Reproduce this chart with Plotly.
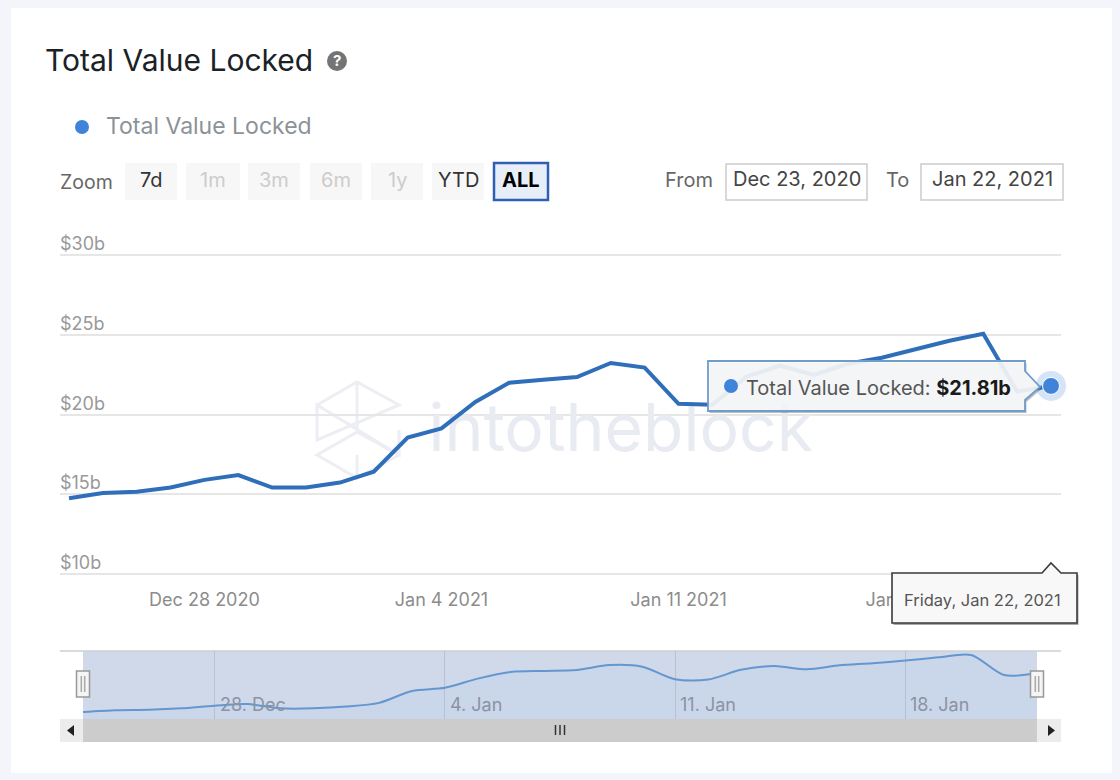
import plotly.graph_objects as go

W, H = 1120, 780

# ---- data ----
dates = ["2020-12-24", "2020-12-25", "2020-12-26", "2020-12-27", "2020-12-28", "2020-12-29",
         "2020-12-30", "2020-12-31", "2021-01-01", "2021-01-02", "2021-01-03", "2021-01-04",
         "2021-01-05", "2021-01-06", "2021-01-07", "2021-01-08", "2021-01-09", "2021-01-10",
         "2021-01-11", "2021-01-12", "2021-01-13", "2021-01-14", "2021-01-15", "2021-01-16",
         "2021-01-17", "2021-01-18", "2021-01-19", "2021-01-20", "2021-01-21", "2021-01-22"]
tvl = [14.76, 15.08, 15.16, 15.43, 15.91, 16.21, 15.43, 15.43, 15.74, 16.42,
       18.57, 19.14, 20.80, 22.01, 22.20, 22.37, 23.25, 22.96, 20.69, 20.63,
       22.39, 23.08, 22.50, 23.20, 23.58, 24.09, 24.65, 25.09, 21.45, 21.81]
y_ticks = [10, 15, 20, 25, 30]
y_tick_text = ["$10b", "$15b", "$20b", "$25b", "$30b"]
x_ticks = ["2020-12-28", "2021-01-04", "2021-01-11", "2021-01-18"]
x_tick_text = ["Dec 28 2020", "Jan 4 2021", "Jan 11 2021", "Jan 18 2021"]
nav_tick_text = ["28. Dec", "4. Jan", "11. Jan", "18. Jan"]
zoom_buttons = ["7d", "1m", "3m", "6m", "1y", "YTD", "ALL"]
zoom_enabled = [True, False, False, False, False, True, True]
watermark = "intotheblock"

FONT = "Inter, Noto Sans, sans-serif"
BLUE = "#3f84d8"
LINE = "#2f6fb9"


def px(x):
    return x / W


def py(y):
    return 1 - y / H


shapes, ann = [], []


def rect(x0, y0, x1, y1, fill, line=None, lw=0, layer="below"):
    shapes.append(dict(type="rect", xref="paper", yref="paper", x0=px(x0), x1=px(x1), y0=py(y0), y1=py(y1),
                       fillcolor=fill, line=dict(color=line or "rgba(0,0,0,0)", width=lw), layer=layer))


def poly(pts, fill="rgba(0,0,0,0)", line=None, lw=0, layer="below", close=True):
    d = "M " + " L ".join(f"{px(a):.5f} {py(b):.5f}" for a, b in pts) + (" Z" if close else "")
    shapes.append(dict(type="path", xref="paper", yref="paper", path=d, fillcolor=fill,
                       line=dict(color=line or "rgba(0,0,0,0)", width=lw), layer=layer))


def circle(cx, cy, r, fill, line=None, lw=0, layer="below"):
    shapes.append(dict(type="circle", xref="paper", yref="paper", x0=px(cx - r), x1=px(cx + r), y0=py(cy - r), y1=py(cy + r),
                       fillcolor=fill, line=dict(color=line or "rgba(0,0,0,0)", width=lw), layer=layer))


def text(x, y, s, size, color, anchor="left", weight=None):
    if anchor == "left":
        x -= 3
    ann.append(dict(xref="paper", yref="paper", x=px(x), y=py(y), text=s, showarrow=False, xanchor=anchor, yanchor="middle",
                    font=dict(family=FONT, size=size, color=color, weight=weight or 400)))


# card
rect(11, 8, 1112, 773, "#ffffff")

# header
text(46, 60, "Total Value Locked", 30, "#1b2126")
circle(337, 61, 10, "#747474")
text(337, 61, "?", 15, "#ffffff", "center", 700)

# legend
circle(82, 127, 7, BLUE)
text(107, 126, "Total Value Locked", 23, "#8b9398")

# zoom buttons
text(61, 182, "Zoom", 19.5, "#666666")
btn_x = [(125, 177), (186, 240), (248, 300), (310, 362), (371, 423), (432, 484), (494, 548)]
for (x0, x1), lab, en in zip(btn_x, zoom_buttons, zoom_enabled):
    active = lab == "ALL"
    rect(x0, 163, x1, 200, "#e8eef8" if active else "#f7f7f7", "#2f5fb3" if active else None, 2.5 if active else 0)
    text((x0 + x1) / 2, 180, lab, 20, "#000000" if active else ("#333333" if en else "#cccccc"), "center", 700 if active else 400)

# date inputs
text(666, 180, "From", 20, "#666666")
rect(726, 164, 867, 200, "#ffffff", "#cccccc", 1.5)
text(796.5, 179, "Dec 23, 2020", 20, "#444444", "center")
text(887, 180, "To", 20, "#666666")
rect(921, 164, 1063, 200, "#ffffff", "#cccccc", 1.5)
text(992, 179, "Jan 22, 2021", 20, "#444444", "center")

# watermark logo
WM = "#eceef4"
for seg in ([(317, 405), (357, 382), (399, 405), (317, 440), (317, 405), (399, 455), (399, 430)],
            [(399, 455), (357, 478), (317, 455), (357, 432), (399, 455)],
            [(357, 382), (357, 430)], [(357, 455), (357, 478)]):
    poly(seg, line=WM, lw=3, close=False)

# y tick labels sit above the gridlines
for v, s in zip(y_ticks, y_tick_text):
    ann.append(dict(xref="paper", yref="y", x=px(58), y=v, yshift=11.5, text=s, showarrow=False, xanchor="left", yanchor="middle",
                    font=dict(family=FONT, size=18, color="#999999")))

# navigator
rect(83, 651, 1037, 719, "#d0d9ea")
poly([(60, 651), (1061, 651)], line="#cfcfcf", lw=1.5, close=False)
for d, s in zip(x_ticks, nav_tick_text):
    ann.append(dict(xref="x2", yref="paper", x=d, y=py(704), xshift=3, text=s, showarrow=False, xanchor="left", yanchor="middle",
                    font=dict(family=FONT, size=18, color="#8b93a3")))

# scrollbar
rect(83, 719, 1037, 742, "#cccccc", layer="above")
rect(60, 719, 83, 742, "#ececec", layer="above")
rect(1037, 719, 1061, 742, "#ececec", layer="above")
poly([(74, 725), (74, 736), (67, 730.5)], fill="#222222", layer="above")
poly([(1048, 725), (1048, 736), (1055, 730.5)], fill="#222222", layer="above")
for gx in (555.5, 560, 564.5):
    poly([(gx, 725), (gx, 735)], line="#333333", lw=1.5, layer="above", close=False)
for hx in (83, 1037):
    rect(hx - 6.5, 671, hx + 6.5, 697, "#f5f5f5", "#999999", 1.5, layer="above")
    for dx in (-1.7, 1.7):
        poly([(hx + dx, 676), (hx + dx, 692)], line="#aaaaaa", lw=1.5, layer="above", close=False)

# tooltip on the line
tip = [(708, 361), (1025, 361), (1025, 371), (1040, 387), (1025, 400), (1025, 411), (708, 411)]
poly([(a + 1.5, b + 2) for a, b in tip], fill="rgba(60,70,90,0.35)", layer="above")
poly(tip, fill="rgba(250,251,252,0.9)", line="#6f9cc9", lw=1.8, layer="above")
circle(731, 386, 7, BLUE, layer="above")
ann.append(dict(xref="paper", yref="paper", x=px(744), y=py(388), showarrow=False, xanchor="left", yanchor="middle",
                text="Total Value Locked: <b style='color:#1a1a1a'>$21.81b</b>",
                font=dict(family=FONT, size=20, color="#555555")))

# date tooltip
tip2 = [(892, 573), (1042, 573), (1051, 563), (1061, 573), (1077, 573), (1077, 623), (892, 623)]
poly([(a + 1.5, b + 2) for a, b in tip2], fill="rgba(40,40,40,0.4)", layer="above")
poly(tip2, fill="#f8f8f8", line="#3a3a3a", lw=1.6, layer="above")
text(905, 600, "Friday, Jan 22, 2021", 16.5, "#555555")

fig = go.Figure()
# watermark wordmark goes first so that the series line is drawn over it
fig.add_trace(go.Scatter(x=["2021-01-09 07:00"], y=[18.75], mode="text", text=[watermark], textposition="middle center",
                         textfont=dict(family=FONT, size=66, color="#e9ebf3"), cliponaxis=False,
                         xaxis="x", yaxis="y", showlegend=False, hoverinfo="skip"))
fig.add_trace(go.Scatter(x=dates, y=tvl, mode="lines", line=dict(color=LINE, width=4), xaxis="x", yaxis="y",
                         showlegend=False, hoverinfo="skip"))
fig.add_trace(go.Scatter(x=dates[-1:], y=tvl[-1:], mode="markers", xaxis="x", yaxis="y", cliponaxis=False,
                         marker=dict(size=30, color="rgba(63,132,216,0.22)", line=dict(width=0)),
                         showlegend=False, hoverinfo="skip"))
fig.add_trace(go.Scatter(x=dates[-1:], y=tvl[-1:], mode="markers", xaxis="x", yaxis="y", cliponaxis=False,
                         marker=dict(size=17, color=BLUE, line=dict(width=1, color="#ffffff")),
                         showlegend=False, hoverinfo="skip"))
fig.add_trace(go.Scatter(x=dates, y=tvl, mode="lines", line=dict(color="#6496cf", width=2, shape="spline", smoothing=0.8),
                         fill="tozeroy", fillcolor="rgba(124,181,236,0.06)", xaxis="x2", yaxis="y2",
                         showlegend=False, hoverinfo="skip"))

fig.update_layout(
    width=W, height=H, margin=dict(l=0, r=0, t=0, b=0), autosize=False,
    paper_bgcolor="#f3f5fa", plot_bgcolor="rgba(0,0,0,0)", shapes=shapes, annotations=ann,
    font=dict(family=FONT),
    xaxis=dict(domain=[px(60), px(1061)], anchor="y", type="date",
               range=["2020-12-23 17:37", "2021-01-22 07:05"],
               tickvals=x_ticks, ticktext=x_tick_text, showgrid=False, zeroline=False,
               showline=False, ticks="", ticklabelstandoff=8, tickfont=dict(family=FONT, size=18, color="#8c8c8c")),
    yaxis=dict(domain=[py(579), py(250)], anchor="x", range=[9.686, 30.345], tickvals=y_ticks, showticklabels=False,
               gridcolor="#e6e6e6", gridwidth=1.5, zeroline=False, showline=False),
    xaxis2=dict(domain=[px(83), px(1037)], anchor="y2", type="date", range=[dates[0], dates[-1]],
                tickvals=x_ticks, showticklabels=False, showgrid=True, gridcolor="#b9c1d3", gridwidth=1,
                zeroline=False, showline=False, ticks=""),
    yaxis2=dict(domain=[py(719), py(651)], anchor="x2", range=[13.5, 25.8], showticklabels=False, showgrid=False,
                zeroline=False, showline=False),
)

fig.write_html("out.html", config=dict(displayModeBar=False),
               post_script="document.body.style.margin='0';document.body.style.overflow='hidden';")
